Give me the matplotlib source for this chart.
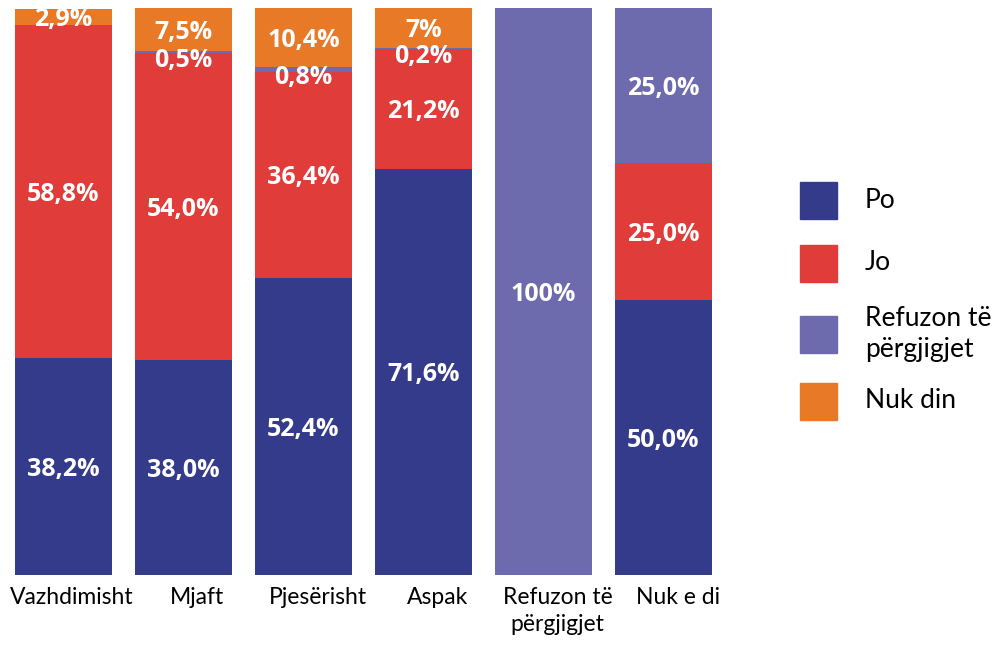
import matplotlib
matplotlib.use("Agg")
import matplotlib.pyplot as plt
from matplotlib.patches import Rectangle
from matplotlib.transforms import ScaledTranslation

plt.rcParams['font.family'] = ['Lato', 'DejaVu Sans']

categories = ["Vazhdimisht", "Mjaft", "Pjesërisht", "Aspak", "Refuzon të\npërgjigjet", "Nuk e di"]
series_names = ["Po", "Jo", "Refuzon të\npërgjigjet", "Nuk din"]
# bar heights as drawn in the reference (percent)
po = [38.2, 38.0, 52.4, 71.6, 0.0, 48.5]
jo = [58.8, 54.0, 36.4, 21.2, 0.0, 24.2]
refuzon = [0.0, 0.5, 0.8, 0.2, 100.0, 27.3]
nuk_din = [2.9, 7.5, 10.4, 7.0, 0.0, 0.0]
# data labels as printed in the reference
labels = [
    ["38,2%", "38,0%", "52,4%", "71,6%", "", "50,0%"],
    ["58,8%", "54,0%", "36,4%", "21,2%", "", "25,0%"],
    ["", "0,5%", "0,8%", "0,2%", "100%", "25,0%"],
    ["2,9%", "7,5%", "10,4%", "7%", "", ""],
]
colors = ["#353B8B", "#E03C39", "#6D6BAD", "#E87A27"]

W, H = 993, 645
fig = plt.figure(figsize=(W / 100, H / 100), dpi=100)
ax = fig.add_axes([3.5 / W, (H - 575) / H, 720 / W, 567 / H])

data = [po, jo, refuzon, nuk_din]
x = list(range(len(categories)))
bottom = [0.0] * len(categories)
for s, vals in enumerate(data):
    ax.bar(x, vals, bottom=bottom, width=0.81, color=colors[s], linewidth=0)
    for i, v in enumerate(vals):
        lab = labels[s][i]
        if lab:
            yc = bottom[i] + v / 2
            dy = -6 if v < 2 else -2
            ax.annotate(lab, (i, yc), xytext=(0, dy), textcoords="offset points",
                        ha="center", va="center", color="white",
                        fontsize=18, fontweight="bold",
                        family=["Open Sans", "DejaVu Sans"])
    bottom = [b + v for b, v in zip(bottom, vals)]

ax.set_xlim(-0.5, 5.5)
ax.set_ylim(0, 100)
ax.set_xticks(x)
ax.set_xticklabels(categories, fontsize=16.5, va="top", linespacing=1.3)
ax.tick_params(axis="x", length=0, pad=9)
for k, lbl in enumerate(ax.get_xticklabels()):
    px = 8 if k == 0 else 14
    lbl.set_transform(lbl.get_transform() + ScaledTranslation(px / 100, 0, fig.dpi_scale_trans))
ax.set_yticks([])
for sp in ax.spines.values():
    sp.set_visible(False)

# legend
centers = [200, 263, 334, 401]
for s, name in enumerate(series_names):
    yc = centers[s]
    fig.patches.append(Rectangle((800 / W, (H - yc - 18.5) / H), 37 / W, 37 / H,
                                 transform=fig.transFigure, color=colors[s], figure=fig))
    fig.text(865 / W, (H - yc) / H, name, ha="left", va="center",
             fontsize=19, linespacing=1.3)

fig.savefig("out.png", dpi=100)
